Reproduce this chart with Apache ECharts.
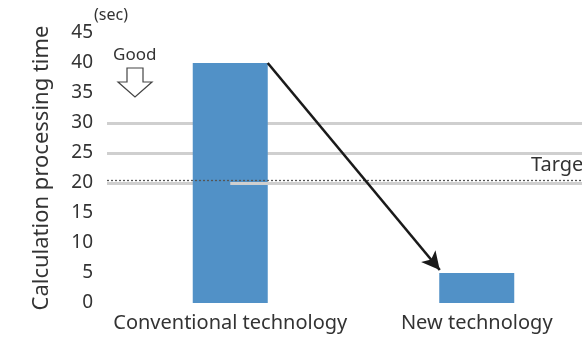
<!DOCTYPE html>
<html>
<head>
<meta charset="utf-8">
<script src="https://cdn.jsdelivr.net/npm/echarts@6/dist/echarts.min.js"></script>
<style>
  html, body { margin: 0; padding: 0; background: #fff; }
  #chart { width: 582px; height: 338px; }
</style>
</head>
<body>
<div id="chart"></div>
<script>
// Processing time per technology (seconds)
const categories = ['Conventional technology', 'New technology'];
const processingTime = [40, 5];
const gridValues = [20, 25, 30];
const targetValue = 20.5;
const yTicks = [0, 5, 10, 15, 20, 25, 30, 35, 40, 45];
// Improvement arrow: from the top-right corner of the first bar to just left of the second
const arrowFrom = [0.152, 40];
const arrowTo = [0.85, 5.5];

// Category positions on the horizontal value axis; the right side runs past the frame
const catPos = categories.map((_, i) => i);
const xMin = -0.5;
const xMax = 1.427;

const FONT = '"Noto Sans", "Open Sans", sans-serif';
const TEXT = '#333333';

const chart = echarts.init(document.getElementById('chart'), null, { renderer: 'canvas' });

chart.setOption({
  animation: false,
  backgroundColor: '#ffffff',
  grid: { left: 107, top: 33, bottom: 35, right: 0, containLabel: false },
  xAxis: {
    type: 'value',
    min: xMin, max: xMax,
    axisLine: { show: false },
    axisTick: { show: false },
    splitLine: { show: false },
    axisLabel: {
      customValues: catPos,
      color: TEXT, fontSize: 20, fontFamily: FONT, margin: 10,
      formatter: v => categories[Math.round(v)] || ''
    }
  },
  yAxis: {
    type: 'value',
    min: 0, max: 45, interval: 5,
    name: 'Calculation processing time',
    nameLocation: 'middle',
    nameGap: 54,
    nameTextStyle: { color: TEXT, fontSize: 22, fontFamily: FONT },
    axisLine: { show: false },
    axisTick: { show: false },
    splitLine: { show: false },
    axisLabel: {
      color: TEXT, fontSize: 19, fontFamily: FONT, margin: 14,
      formatter: v => (yTicks.includes(v) ? String(v) : '')
    }
  },
  series: [
    {
      // horizontal reference lines behind the bars
      type: 'line',
      data: [],
      markLine: {
        silent: true,
        z: 1,
        symbol: 'none',
        label: { show: false },
        lineStyle: { color: '#cfcfcf', width: 3, type: 'solid' },
        data: gridValues.map(v => ({ yAxis: v }))
      }
    },
    {
      type: 'bar',
      data: catPos.map((x, i) => [x, processingTime[i]]),
      barWidth: 75,
      itemStyle: { color: '#5191c7' },
      z: 2
    },
    {
      // target line, dotted line and the improvement arrow on top
      type: 'line',
      data: [],
      markLine: {
        silent: true,
        z: 10,
        label: { show: false },
        data: [
          [
            { coord: [catPos[0], gridValues[0]], symbol: 'none', lineStyle: { color: '#cfcfcf', width: 3, type: 'solid' } },
            { coord: [xMax, gridValues[0]], symbol: 'none' }
          ],
          [
            { coord: [xMin, targetValue], symbol: 'none', lineStyle: { color: '#555555', width: 1.3, type: [2, 2] } },
            { coord: [xMax, targetValue], symbol: 'none' }
          ],
          [
            { coord: arrowFrom, symbol: 'none', lineStyle: { color: '#1a1a1a', width: 2.6, type: 'solid' } },
            { coord: arrowTo, symbol: 'arrow', symbolSize: [14, 18] }
          ]
        ]
      }
    }
  ],
  graphic: [
    {
      type: 'text', left: 94, top: 7,
      style: { text: '(sec)', fill: TEXT, font: '16px ' + FONT }
    },
    {
      type: 'text', left: 113, top: 47,
      style: { text: 'Good', fill: TEXT, font: '17px ' + FONT }
    },
    {
      type: 'polygon',
      shape: { points: [[127, 68], [143, 68], [143, 82], [152, 82], [135, 97], [118, 82], [127, 82]] },
      style: { fill: '#ffffff', stroke: '#444444', lineWidth: 1.2 }
    },
    {
      type: 'text', left: 531, top: 155,
      style: { text: 'Target', fill: TEXT, font: '20px ' + FONT }
    }
  ]
});
</script>
</body>
</html>
